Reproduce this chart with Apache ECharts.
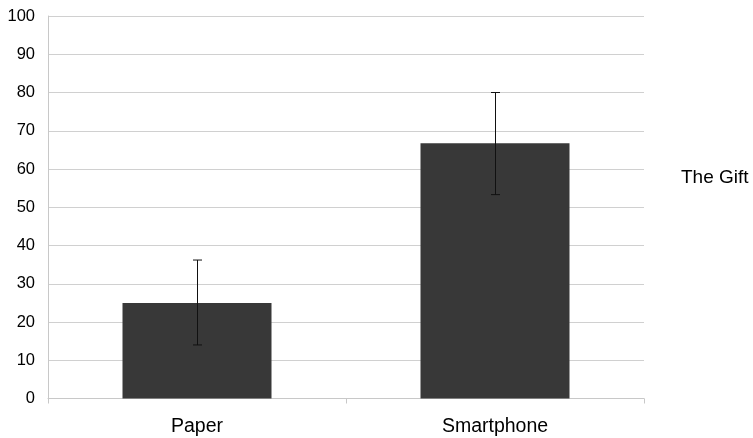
<!DOCTYPE html>
<html><head><meta charset="utf-8">
<script src="https://cdn.jsdelivr.net/npm/echarts@6/dist/echarts.min.js"></script>
<style>html,body{margin:0;padding:0;background:#fff}#c{width:753px;height:438px}</style>
</head><body><div id="c"></div>
<script>
const categories = ['Paper', 'Smartphone'];
const values = [25, 66.7];
const errLow = [14, 53.3];
const errHigh = [36.2, 80];
const yTicks = [0, 10, 20, 30, 40, 50, 60, 70, 80, 90, 100];
const seriesName = 'The Gift';

const chart = echarts.init(document.getElementById('c'), null, {renderer: 'canvas'});
const font = '"Liberation Sans", Arial, sans-serif';
chart.setOption({
  animation: false,
  grid: {left: 48, right: 109, top: 16, bottom: 39.5},
  legend: {
    data: [{name: seriesName, icon: 'none'}],
    orient: 'vertical', left: 671, top: 163,
    itemWidth: 0, itemHeight: 0, itemGap: 0,
    textStyle: {fontFamily: font, fontSize: 19, color: '#000'}
  },
  xAxis: {
    type: 'category', data: categories,
    axisLine: {lineStyle: {color: '#c8c8c8', width: 1}},
    axisTick: {show: true, length: 5, lineStyle: {color: '#c8c8c8'}},
    axisLabel: {fontFamily: font, fontSize: 19.5, color: '#000', margin: 18}
  },
  yAxis: {
    type: 'value', min: yTicks[0], max: yTicks[yTicks.length - 1], interval: 10,
    axisLine: {show: true, lineStyle: {color: '#c8c8c8'}},
    axisTick: {show: false},
    axisLabel: {fontFamily: font, fontSize: 16.5, color: '#000', margin: 13},
    splitLine: {lineStyle: {color: '#d0d0d0', width: 1}}
  },
  series: [
    {
      name: seriesName, type: 'bar', data: values, barWidth: '50%',
      itemStyle: {color: '#383838'}
    },
    {
      name: 'err', type: 'custom',
      data: categories.map((c, i) => [i, errLow[i], errHigh[i]]),
      renderItem: function (params, api) {
        const lo = api.coord([api.value(0), api.value(1)]);
        const hi = api.coord([api.value(0), api.value(2)]);
        const x = Math.round(lo[0]) + 0.5;
        const cap = 4.5;
        const st = {stroke: '#111', lineWidth: 1};
        return {type: 'group', children: [
          {type: 'line', shape: {x1: x, y1: hi[1], x2: x, y2: lo[1]}, style: st},
          {type: 'line', shape: {x1: x - cap, y1: hi[1], x2: x + cap, y2: hi[1]}, style: st},
          {type: 'line', shape: {x1: x - cap, y1: lo[1], x2: x + cap, y2: lo[1]}, style: st}
        ]};
      },
      z: 10
    }
  ]
});
</script></body></html>
